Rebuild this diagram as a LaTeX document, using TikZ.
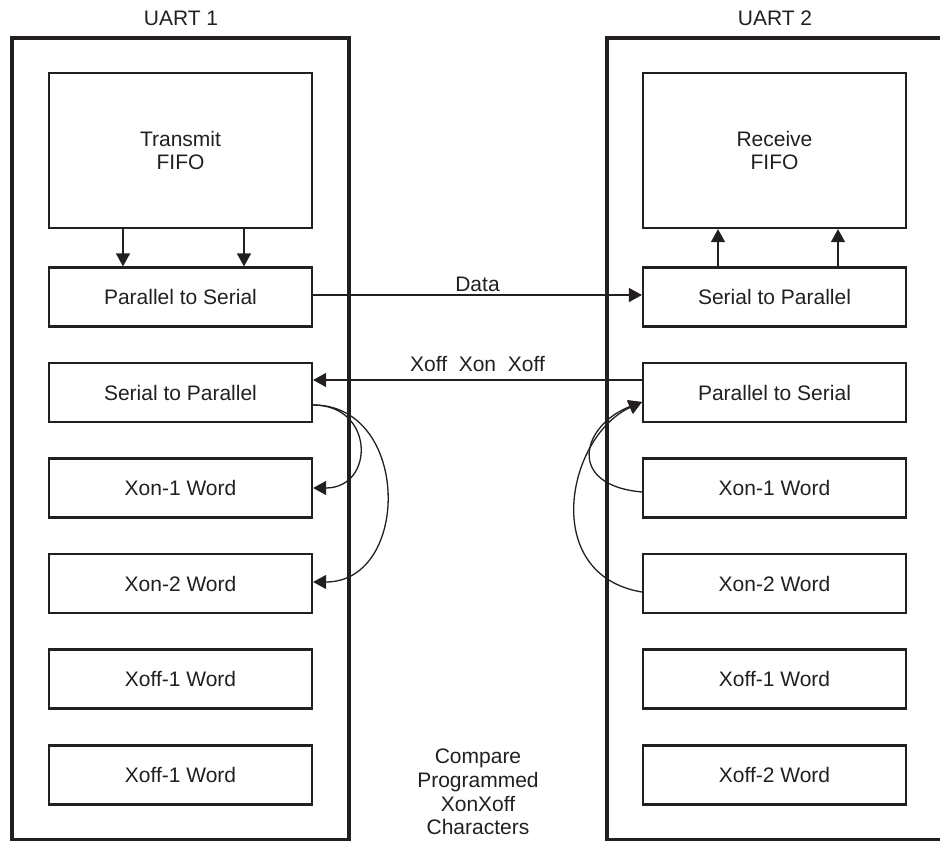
\documentclass[tikz,border=0pt]{standalone}
\usepackage{fontspec}
\setmainfont{Liberation Sans}
\usetikzlibrary{arrows.meta,calc}
\definecolor{ink}{HTML}{231F20}
\begin{document}
\begin{tikzpicture}[x=1pt,y=-1pt,
  every node/.style={font=\fontsize{21}{23.6}\selectfont, text=ink},
  outerbox/.style={draw=ink, line width=3.2pt, inner sep=0pt},
  blk/.style={draw=ink, line width=2.2pt, inner sep=0pt, minimum width=263pt, minimum height=59pt, align=center},
  conn/.style={draw=ink, line width=1.3pt},
  arr/.style={conn, -{Triangle[length=13pt,width=14pt]}}
]
\useasboundingbox (0,0) rectangle (940,842);

% outer boxes
\node[outerbox, minimum width=337pt, minimum height=801.5pt] (u1) at (180.5,438.75) {};
\begin{scope}
\clip (0,0) rectangle (940,842);
\node[outerbox, minimum width=343pt, minimum height=801.5pt] (u2) at (778.5,438.75) {};
\end{scope}
\node (t1) at (181,18) {UART 1};
\node (t2) at (775,18) {UART 2};

% left column
\node[blk, minimum height=155pt] (tf) at (180.5,150.5) {Transmit\\FIFO};
\node[blk] (lp2s) at (180.5,297) {Parallel to Serial};
\node[blk] (ls2p) at (180.5,392.5) {Serial to Parallel};
\node[blk] (lxon1) at (180.5,488) {Xon-1 Word};
\node[blk] (lxon2) at (180.5,583.5) {Xon-2 Word};
\node[blk] (lxoff1) at (180.5,679) {Xoff-1 Word};
\node[blk] (lxoff2) at (180.5,775) {Xoff-1 Word};

% right column
\node[blk, minimum height=155pt] (rf) at (774.5,150.5) {Receive\\FIFO};
\node[blk] (rs2p) at (774.5,297) {Serial to Parallel};
\node[blk] (rp2s) at (774.5,392.5) {Parallel to Serial};
\node[blk] (rxon1) at (774.5,488) {Xon-1 Word};
\node[blk] (rxon2) at (774.5,583.5) {Xon-2 Word};
\node[blk] (rxoff1) at (774.5,679) {Xoff-1 Word};
\node[blk] (rxoff2) at (774.5,775) {Xoff-2 Word};

% FIFO arrows
\draw[arr] ([xshift=-57.5pt]tf.south) -- ([xshift=-57.5pt]lp2s.north);
\draw[arr] ([xshift=63.5pt]tf.south) -- ([xshift=63.5pt]lp2s.north);
\draw[arr] ([xshift=-56.5pt]rs2p.north) -- ([xshift=-56.5pt]rf.south);
\draw[arr] ([xshift=63.5pt]rs2p.north) -- ([xshift=63.5pt]rf.south);

% Data link
\draw[arr] ([yshift=2pt]lp2s.east) -- node[midway, above, inner sep=2.5pt] {Data} ([yshift=2pt]rs2p.west);
% Xoff Xon Xoff link
\draw[arr] ([yshift=12.5pt]rp2s.west) -- node[midway, above, inner sep=7.5pt] {Xoff~~Xon~~Xoff} ([yshift=12.5pt]ls2p.east);

% left curves
\coordinate (ls) at ([yshift=-12.5pt]ls2p.east);
\draw[arr] (ls) .. controls (375,405) and (375,488) .. (lxon1.east);
\draw[arr] (ls) .. controls (411,405) and (411,582) .. ([yshift=1.5pt]lxon2.east);

% right curves
\coordinate (rt) at ([yshift=-9.5pt]rp2s.west);
\draw[arr] ([yshift=-4pt]rxon1.west) .. controls (565,485) and (582,425) .. (rt);
\draw[arr] ([yshift=-8.5pt]rxon2.west) .. controls (540,575) and (566,437) .. (rt);

% caption
\node[align=center] (cmp) at (478,792) {Compare\\Programmed\\XonXoff\\Characters};
\end{tikzpicture}
\end{document}
